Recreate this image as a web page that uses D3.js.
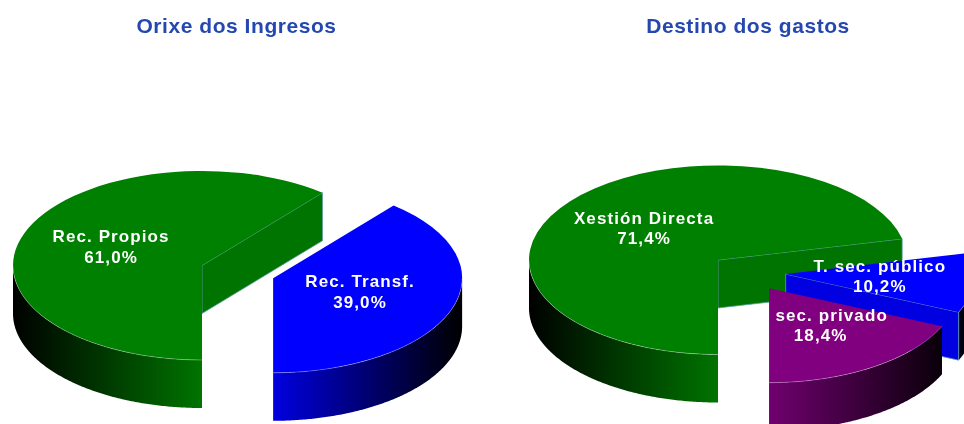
<!DOCTYPE html>
<html>
<head>
<meta charset="utf-8">
<script src="https://cdn.jsdelivr.net/npm/d3@7"></script>
<style>
  html, body { margin: 0; padding: 0; background: #fff; overflow: hidden; }
  svg { display: block; filter: blur(0.6px); }
  text { font-family: "Liberation Sans", Arial, sans-serif; font-weight: bold; text-anchor: middle; }
</style>
</head>
<body>
<div id="viz-container"></div>
<script>
// data
let titles = ["Orixe dos Ingresos", "Destino dos gastos"];

let ingresosNames = ["Rec. Propios", "Rec. Transf."];
let ingresosValues = [61.0, 39.0];

let gastosNames = ["Xestión Directa", "T. sec. público", "sec. privado"];
let gastosValues = [71.4, 10.2, 18.4];

let viz = d3.select("#viz-container")
                .append("svg")
                    .attr("width", 964)
                    .attr("height", 424)
;
let defs = viz.append("defs");

let rx = 189, ry = 94.5, depth = 48;
let pctFormat = d3.formatLocale({decimal: ",", thousands: ".", grouping: [3], currency: ["", ""]}).format(".1f");
let gradId = 0;

// one lookup for each pie, by slice
let ingresosStyle = [
  {color: "#008000", wall: "#007400", labelDx: -2},
  {color: "#0000ff", wall: "#0000e0", explode: 0.4, dir: 109.8, labelDx: -2}
];
let gastosStyle = [
  {color: "#008000", wall: "#007400"},
  {color: "#0000ff", wall: "#0000e0", explode: 0.388, dir: 112.6},
  {color: "#800080", wall: "#700070", explode: 0.402, dir: 137.8, nameDx: 11}   // name sits right of its value
];

function drawPie(names, values, styles, cx, cy){
  // clockwise from the bottom of the pie, same as the original
  let arcs = d3.pie().sort(null).startAngle(Math.PI).endAngle(3 * Math.PI)(values);

  let angle = d3.scaleLinear().domain([0, 360]).range([0, 2 * Math.PI]);
  let arcGen = d3.arc().innerRadius(0).outerRadius(rx);

  let labels = [];

  arcs.forEach(function(a, i){
    let st = styles[i];
    let dir = angle(st.dir || 0);
    let off = st.explode || 0;
    let px = cx + off * rx * Math.sin(dir);
    let py = cy - off * ry * Math.cos(dir);

    // horizontal and vertical scales of this slice (unit circle -> pixels)
    let sx = d3.scaleLinear().domain([-1, 1]).range([px - rx, px + rx]);
    let sy = d3.scaleLinear().domain([-1, 1]).range([py - ry, py + ry]);

    let g = viz.append("g");

    // shaded side: black at the edges, slice colour in the middle
    let id = "side" + (gradId++);
    let grad = defs.append("linearGradient")
                    .attr("id", id)
                    .attr("gradientUnits", "userSpaceOnUse")
                    .attr("x1", px - rx).attr("x2", px + rx)
                    .attr("y1", 0).attr("y2", 0);
    grad.append("stop").attr("offset", 0).attr("stop-color", "#000");
    grad.append("stop").attr("offset", 0.5).attr("stop-color", st.wall);
    grad.append("stop").attr("offset", 1).attr("stop-color", "#000");

    let side = d3.area()
                  .x(function(t){ return sx(Math.sin(t)); })
                  .y0(function(t){ return sy(-Math.cos(t)); })
                  .y1(function(t){ return sy(-Math.cos(t)) + depth; });

    // only the part facing us (90..270 degrees) shows
    let from = Math.max(a.startAngle, angle(90));
    let to = Math.min(a.endAngle, angle(270));
    if(a.endAngle > angle(450)){
      from = Math.max(a.startAngle, angle(450));
      to = Math.min(a.endAngle, angle(630));
    }
    if(to > from){
      let ts = d3.range(from, to, 0.01).concat([to]);
      g.append("path")
          .attr("d", side(ts))
          .attr("fill", "url(#" + id + ")");
    }

    // flat cut face at the end of the slice, seen when it looks towards us
    let endSin = Math.sin(a.endAngle), endCos = Math.cos(a.endAngle);
    if(endSin > 0.01){
      let cut = d3.area()
                    .x(function(d){ return sx(d * endSin); })
                    .y0(function(d){ return sy(-d * endCos); })
                    .y1(function(d){ return sy(-d * endCos) + depth; });
      g.append("path")
          .attr("d", cut([0, 1]))
          .attr("fill", st.wall)
          .attr("stroke", "#5f9ea8")
          .attr("stroke-width", 0.8);
    }

    // top face
    g.append("path")
        .attr("d", arcGen(a))
        .attr("transform", "translate(" + px + "," + py + ") scale(1," + (ry / rx) + ")")
        .attr("fill", st.color);

    // light seam between the top and the side
    if(to > from){
      let ts = d3.range(from, to, 0.01).concat([to]);
      g.append("path")
          .attr("d", d3.line()
                        .x(function(t){ return sx(Math.sin(t)); })
                        .y(function(t){ return sy(-Math.cos(t)); })(ts))
          .attr("fill", "none")
          .attr("stroke", "#fff")
          .attr("stroke-opacity", 0.35)
          .attr("stroke-width", 0.8);
    }

    let mid = (a.startAngle + a.endAngle) / 2;
    labels.push({
      x: sx(0.5 * Math.sin(mid)) + (st.labelDx || 0),
      y: sy(-0.5 * Math.cos(mid)),
      nameDx: st.nameDx || 0,
      name: names[i],
      value: pctFormat(a.value) + "%"
    });
  });

  // labels go last so that no slice covers them
  labels.forEach(function(l){
    let t = viz.append("text")
                .attr("y", l.y - 7)
                .attr("fill", "#fff")
                .attr("font-size", 17)
                .attr("letter-spacing", 1.1);
    t.append("tspan").attr("x", l.x + l.nameDx).text(l.name);
    t.append("tspan").attr("x", l.x).attr("dy", 20.5).text(l.value);
  });
}

drawPie(ingresosNames, ingresosValues, ingresosStyle, 202, 265.5);
drawPie(gastosNames, gastosValues, gastosStyle, 718, 260);

viz.selectAll(".title")
    .data(titles)
    .enter()
    .append("text")
      .attr("class", "title")
      .attr("x", function(d, i){ return i == 0 ? 236.5 : 748; })
      .attr("y", 33)
      .attr("fill", "#2448b0")
      .attr("font-size", 21)
      .attr("letter-spacing", 0.55)
      .text(function(d){ return d; })
;
</script>
</body>
</html>
